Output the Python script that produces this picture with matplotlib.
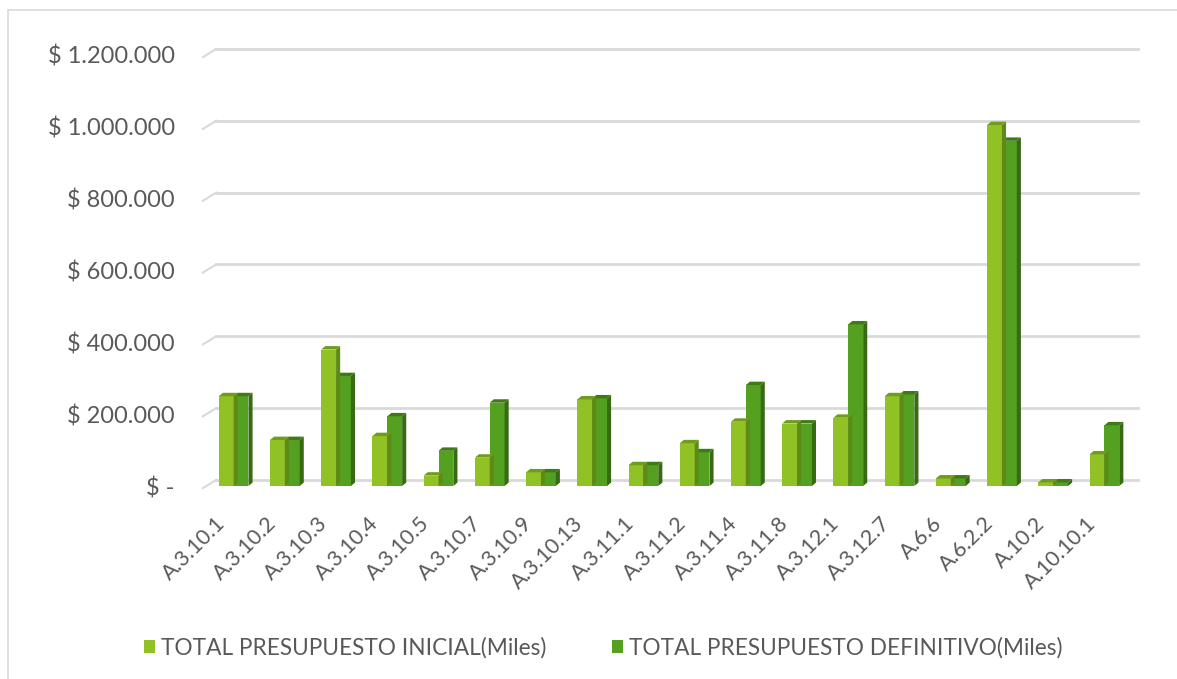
import numpy as np
import matplotlib.pyplot as plt
from matplotlib.patches import Polygon, Rectangle
from matplotlib.ticker import FuncFormatter
from matplotlib.transforms import ScaledTranslation

# datos (miles de pesos)
categorias = ["A.3.10.1", "A.3.10.2", "A.3.10.3", "A.3.10.4", "A.3.10.5", "A.3.10.7",
              "A.3.10.9", "A.3.10.13", "A.3.11.1", "A.3.11.2", "A.3.11.4", "A.3.11.8",
              "A.3.12.1", "A.3.12.7", "A.6.6", "A.6.2.2", "A.10.2", "A.10.10.1"]
inicial = [250000, 128000, 380000, 139000, 29000, 79000, 38000, 241000, 58000,
           119000, 179000, 174000, 190000, 250000, 21000, 1005000, 10000, 88000]
definitivo = [250000, 128000, 306000, 194000, 98000, 232000, 38000, 244000, 58000,
              94000, 281000, 174000, 450000, 255000, 21000, 961000, 10000, 169000]
serie_nombres = ["TOTAL PRESUPUESTO INICIAL(Miles)", "TOTAL PRESUPUESTO DEFINITIVO(Miles)"]
yticks = [0, 200000, 400000, 600000, 800000, 1000000, 1200000]

# colores: frente, lado, arriba
c_ini = ("#90C226", "#5F8A17", "#6F9C1C")
c_def = ("#54A021", "#376A13", "#3F7A17")
gris = "#595959"

plt.rcParams['font.family'] = ['Lato', 'DejaVu Sans']

fig = plt.figure(figsize=(11.77, 6.79), dpi=100)
fig.patches.append(Rectangle((8/1177, -0.05), 1.2, (679-10)/679 + 0.05, transform=fig.transFigure,
                             fill=False, edgecolor="#D9D9D9", lw=1.2))
ax = fig.add_axes([208/1177, (679-486)/679, 922/1177, 431/679])

x = np.arange(len(categorias))
w = 0.29
dx, dy = 0.08, 9500     # profundidad de la barra
gx, gy = 0.16, 17000    # pared del fondo

# grilla en la pared del fondo
for v in yticks:
    ax.plot([-0.5 + gx, 17.5 + gx], [v + gy, v + gy], color="#D9D9D9", lw=2,
            clip_on=False, zorder=0)
    ax.plot([-0.5 - 0.1, -0.5 + gx], [v - 6000, v + gy], color="#D9D9D9", lw=1.5,
            clip_on=False, zorder=0)


def barras3d(xs, vals, cols, label):
    bars = ax.bar(xs, vals, width=w, color=cols[0], label=label, zorder=3, linewidth=0)
    for b in bars:
        x0, x1, h = b.get_x(), b.get_x() + b.get_width(), b.get_height()
        ax.add_patch(Polygon([(x1, 0), (x1 + dx, dy), (x1 + dx, h + dy), (x1, h)],
                             closed=True, color=cols[1], lw=0, zorder=3))
        ax.add_patch(Polygon([(x0, h), (x0 + dx, h + dy), (x1 + dx, h + dy), (x1, h)],
                             closed=True, color=cols[2], lw=0, zorder=3))
    return bars


# primero la serie de atrás (definitivo) y luego la de adelante
barras3d(x + w / 2, definitivo, c_def, serie_nombres[1])
barras3d(x - w / 2, inicial, c_ini, serie_nombres[0])

ax.set_xlim(-0.5, 17.5)
ax.set_ylim(0, 1200000)
ax.set_yticks(yticks)
ax.yaxis.set_major_formatter(FuncFormatter(
    lambda v, p: "$ -" if v == 0 else "$ " + f"{int(v):,}".replace(",", ".")))
ax.set_xticks(x)
ax.set_xticklabels(categorias, rotation=45, ha="right", rotation_mode="anchor")
ax.tick_params(axis="y", length=0, pad=24, labelsize=17, labelcolor=gris)
ax.tick_params(axis="x", length=0, pad=14, labelsize=15.5, labelcolor=gris)
desplaza = ScaledTranslation(-0.19, -0.08, fig.dpi_scale_trans)
for t in ax.get_xticklabels():
    t.set_transform(t.get_transform() + desplaza)
for s in ax.spines.values():
    s.set_visible(False)

h, l = ax.get_legend_handles_labels()
order = [1, 0]
fig.legend([h[i] for i in order], [l[i] for i in order], loc="center",
           bbox_to_anchor=(603/1177, (679-648)/679), ncol=2, frameon=False,
           fontsize=16.3, labelcolor=gris, handlelength=0.5, handleheight=0.5,
           handletextpad=0.25, columnspacing=2.9)

fig.savefig("out.png", dpi=100)
